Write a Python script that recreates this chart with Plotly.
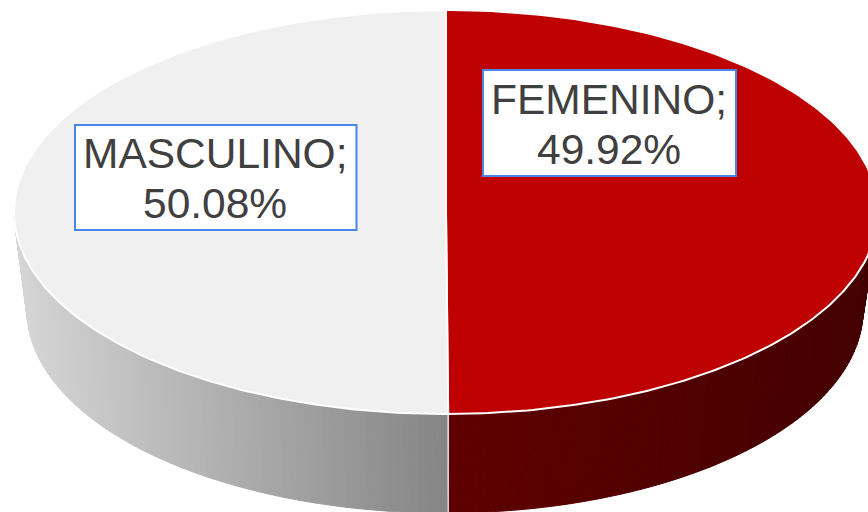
import math
import numpy as np
import plotly.graph_objects as go

categories = ["FEMENINO", "MASCULINO"]
percentages = [49.92, 50.08]
face_colors = ["#bf0000", "#f0f0f0"]
side_near = ["#600000", "#858585"]   # side colour beside the divider
side_far = ["#440000", "#d6d6d6"]    # side colour at the outer end
label_color = "#404040"
box_color = "#4a86e8"
label_boxes = [(483, 736, 70, 176), (75, 356.5, 125, 230)]

CX, CY, RX, RY = 446.0, 212.0, 432.0, 202.0
BCX, BCY, BRX, BRY = 445.0, 310.0, 418.0, 203.0


def top(a):
    return CX + RX * np.sin(a), CY - RY * np.cos(a)


def bottom(a):
    return BCX + BRX * np.sin(a), BCY - BRY * np.cos(a)


def rgb(h):
    return np.array([int(h[i:i + 2], 16) for i in (1, 3, 5)], float)


fig = go.Figure()
fractions = np.array(percentages) / sum(percentages)
edges = np.concatenate([[0], np.cumsum(fractions)]) * 2 * math.pi
split = edges[1]

# Side wall, drawn as narrow strips so it can carry a horizontal gradient
STRIPS = 90
for i, (lo, hi, near_at_lo) in enumerate([(math.pi / 2, split, False), (split, 1.5 * math.pi, True)]):
    cuts = np.linspace(lo, hi, STRIPS + 1)
    x_far = top(hi if near_at_lo else lo)[0]
    x_near = top(split)[0]
    for a0, a1 in zip(cuts[:-1], cuts[1:]):
        xm = top((a0 + a1) / 2)[0]
        f = (xm - x_far) / (x_near - x_far)
        c = rgb(side_far[i]) + (rgb(side_near[i]) - rgb(side_far[i])) * f
        col = "rgb(%d,%d,%d)" % tuple(c)
        xt0, yt0 = top(a0)
        xt1, yt1 = top(a1)
        xb0, yb0 = bottom(a0)
        xb1, yb1 = bottom(a1)
        fig.add_trace(go.Scatter(
            x=[xt0, xt1, xb1, xb0, xt0], y=[yt0, yt1, yb1, yb0, yt0],
            mode="lines", fill="toself", fillcolor=col,
            line=dict(color=col, width=1), hoverinfo="skip", showlegend=False,
        ))

# Divider on the side wall
xt, yt = top(split)
xb, yb = bottom(split)
fig.add_trace(go.Scatter(x=[xt, xt], y=[yt, yb], mode="lines",
                         line=dict(color="#e6e6e6", width=1.5),
                         hoverinfo="skip", showlegend=False))

# Top faces
for i, name in enumerate(categories):
    angles = np.linspace(edges[i], edges[i + 1], 240)
    px, py = top(angles)
    fig.add_trace(go.Scatter(
        x=np.concatenate([[CX], px, [CX]]), y=np.concatenate([[CY], py, [CY]]),
        mode="lines", fill="toself", fillcolor=face_colors[i],
        line=dict(color="#ffffff", width=2), name=name, hoverinfo="name", showlegend=False,
    ))

# Data labels
shapes = []
annotations = []
for name, pct, (x0, x1, y0, y1) in zip(categories, percentages, label_boxes):
    shapes.append(dict(type="rect", x0=x0, x1=x1, y0=y0, y1=y1, xref="x", yref="y",
                       fillcolor="#ffffff", line=dict(color=box_color, width=2), layer="above"))
    ym = (y0 + y1) / 2
    for text, yy in ((f"{name};", ym - 24), (f"{pct:.2f}%", ym + 26)):
        annotations.append(dict(x=(x0 + x1) / 2 - 0.7, y=yy, xref="x", yref="y", text=text,
                                showarrow=False, xanchor="center", yanchor="middle",
                                font=dict(family="Liberation Sans", size=42.5, color=label_color)))

fig.update_layout(
    width=868, height=512, margin=dict(l=0, r=0, t=0, b=0),
    paper_bgcolor="#ffffff", plot_bgcolor="#ffffff", showlegend=False,
    xaxis=dict(range=[0, 868], visible=False, fixedrange=True),
    yaxis=dict(range=[512, 0], visible=False, fixedrange=True),
    shapes=shapes, annotations=annotations,
)
fig.write_html("out.html", config={"displayModeBar": False},
               post_script="document.body.style.margin='0';document.body.style.overflow='hidden';")
